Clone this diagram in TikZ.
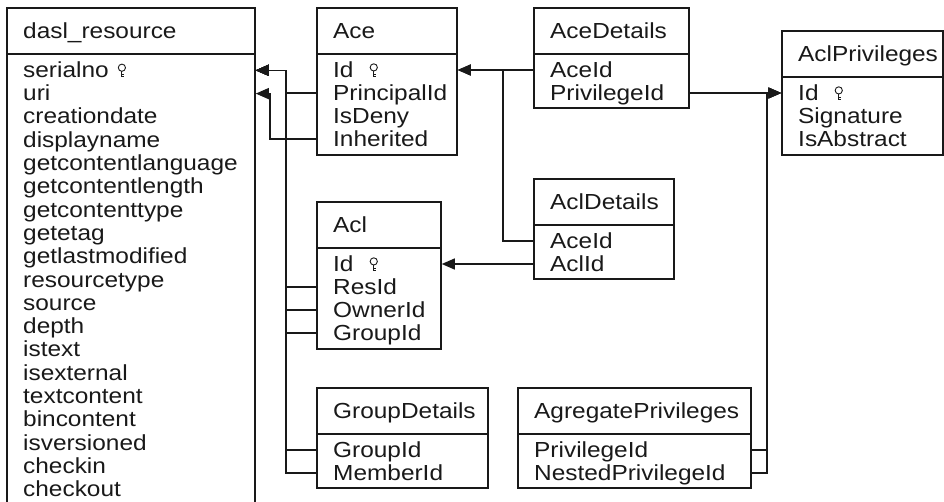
\documentclass[tikz,border=0pt]{standalone}
\usepackage{fontspec}
\setmainfont{Liberation Sans}[FakeStretch=1.12]
\usetikzlibrary{arrows.meta,fit}

\definecolor{ink}{RGB}{25,25,25}

\tikzset{
  tablebox/.style={draw=ink, line width=1.5pt, inner sep=0pt},
  divider/.style={draw=ink, line width=1.5pt},
  tabletitle/.style={anchor=base west, inner sep=0pt, text=ink,
    font=\fontsize{21.8}{23}\selectfont},
  field/.style={anchor=base west, inner sep=0pt, text=ink,
    text height=17pt, text depth=3pt, font=\fontsize{21.8}{23}\selectfont},
  fk/.style={draw=ink, line width=1.3pt, -{Triangle[length=13pt,width=11pt]}},
  keyglyph/.pic={
    \draw[ink, line width=0.9pt] (0,-9.6) circle[radius=3.6pt];
    \draw[ink, line width=0.9pt] (0,-6) -- (0,0)
      (0,-2.8) -- (2.4,-2.8) (0,-0.6) -- (2.4,-0.6);
  }
}

% \dbtable{name}{left}{top}{right}{bottom}{title}{fields}{row step}
\newcommand\dbtable[8]{%
  \node[tablebox, fit={(#2,#3) (#4,#5)}] (#1) {};
  \draw[divider] (#2,#3+46) -- (#4,#3+46);
  \node[tabletitle] (#1-title) at (#2+16,#3+30.5) {#6};
  \foreach \t [count=\i] in {#7} {
    \node[field] (#1-\i) at (#2+16,#3+46+\i*#8) {\t};
  }%
}

\begin{document}
\begin{tikzpicture}[x=1pt, y=-1pt]
  \clip (0,0) rectangle (944,501);

  \dbtable{dasl}{7}{8}{255}{530}{dasl\_resource}{serialno,uri,creationdate,displayname,getcontentlanguage,getcontentlength,getcontenttype,getetag,getlastmodified,resourcetype,source,depth,istext,isexternal,textcontent,bincontent,isversioned,checkin,checkout}{23.3}
  \dbtable{ace}{317}{8}{457}{155}{Ace}{Id,PrincipalId,IsDeny,Inherited}{23}
  \dbtable{aced}{534}{8}{689}{108}{AceDetails}{AceId,PrivilegeId}{23}
  \dbtable{aclp}{782}{31}{943}{155}{AclPrivileges}{Id,Signature,IsAbstract}{23}
  \dbtable{acld}{534}{179}{674}{279}{AclDetails}{AceId,AclId}{23}
  \dbtable{acl}{317}{202}{441}{349}{Acl}{Id,ResId,OwnerId,GroupId}{23}
  \dbtable{grp}{317}{388}{488}{488}{GroupDetails}{GroupId,MemberId}{23}
  \dbtable{aggr}{518}{388}{751}{488}{AgregatePrivileges}{PrivilegeId,NestedPrivilegeId}{23}

  % primary key markers
  \pic at ([xshift=13pt]dasl-1.base east) {keyglyph};
  \pic at ([xshift=20pt]ace-1.base east) {keyglyph};
  \pic at ([xshift=20pt]acl-1.base east) {keyglyph};
  \pic at ([xshift=20pt]aclp-1.base east) {keyglyph};

  % vertical routing lines
  \coordinate (busA) at (286,0);
  \coordinate (busB) at (270,0);
  \coordinate (busC) at (503,0);
  \coordinate (busD) at (767,0);

  % references to dasl_resource.serialno
  \draw[fk] (ace.west |- ace-2) -| (busA |- dasl-1) -- (dasl.east |- dasl-1);
  \draw[fk] (acl.west |- acl-2) -| (busA |- dasl-1) -- (dasl.east |- dasl-1);
  \draw[fk] (acl.west |- acl-3) -| (busA |- dasl-1) -- (dasl.east |- dasl-1);
  \draw[fk] (acl.west |- acl-4) -| (busA |- dasl-1) -- (dasl.east |- dasl-1);
  \draw[fk] (grp.west |- grp-1) -| (busA |- dasl-1) -- (dasl.east |- dasl-1);
  \draw[fk] (grp.west |- grp-2) -| (busA |- dasl-1) -- (dasl.east |- dasl-1);

  % reference to dasl_resource.uri
  \draw[fk] (ace.west |- ace-4) -| (busB |- dasl-2) -- (dasl.east |- dasl-2);

  % references to Ace.Id
  \draw[fk] (aced.west |- aced-1) -- (ace.east |- ace-1);
  \draw[fk] (acld.west |- acld-1) -| (busC |- ace-1) -- (ace.east |- ace-1);

  % reference to Acl.Id
  \draw[fk] (acld.west |- acld-2) -- (acl.east |- acl-1);

  % references to AclPrivileges.Id
  \draw[fk] (aced.east |- aced-2) -- (aclp.west |- aclp-1);
  \draw[fk] (aggr.east |- aggr-1) -| (busD |- aclp-1) -- (aclp.west |- aclp-1);
  \draw[fk] (aggr.east |- aggr-2) -| (busD |- aclp-1) -- (aclp.west |- aclp-1);
\end{tikzpicture}
\end{document}
